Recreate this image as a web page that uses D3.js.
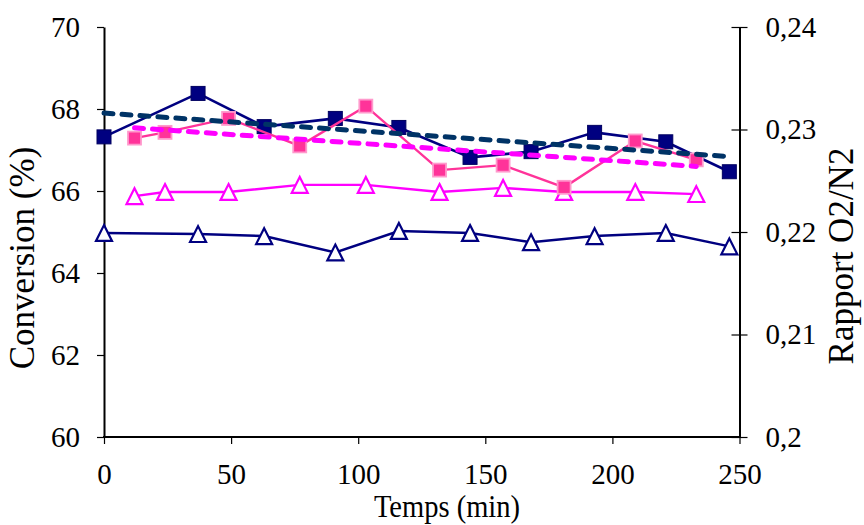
<!DOCTYPE html>
<html><head><meta charset="utf-8">
<script src="https://cdn.jsdelivr.net/npm/d3@7"></script>
<style>
body{margin:0;background:#fff}
svg text{font-family:"Liberation Serif","Times New Roman","DejaVu Serif",serif;fill:#000}
</style>
</head><body>
<svg id="c" width="864" height="525"></svg>
<script>
// ---- data ----
const navyTimes = [0, 37, 63, 91, 116, 144, 168, 193, 221, 246];
const pinkTimes = [12, 24, 49, 77, 103, 132, 157, 181, 209, 233];
const navyConversion = [67.32, 68.38, 67.57, 67.77, 67.55, 66.82, 66.96, 67.43, 67.20, 66.47];
const pinkConversion = [67.29, 67.43, 67.77, 67.10, 68.07, 66.51, 66.63, 66.09, 67.22, 66.76];
const navyRatio = [0.2199, 0.2198, 0.2196, 0.2180, 0.2201, 0.2199, 0.2190, 0.2196, 0.2199, 0.2186];
const pinkRatio = [0.2235, 0.2239, 0.2239, 0.2246, 0.2246, 0.2239, 0.2243, 0.2239, 0.2239, 0.2237];
const navyTrendTimes = [0, 246];
const navyTrendValues = [67.90, 66.84];
const pinkTrendTimes = [12, 233];
const pinkTrendValues = [67.54, 66.60];
const xTicks = [0, 50, 100, 150, 200, 250];
const leftTicks = [60, 62, 64, 66, 68, 70];
const rightTicks = [0.20, 0.21, 0.22, 0.23, 0.24];
const rightTickLabels = ["0,2", "0,21", "0,22", "0,23", "0,24"];
const xTitle = "Temps (min)";
const leftTitle = "Conversion (%)";
const rightTitle = "Rapport O2/N2";

// ---- layout ----
const FONT = "Liberation Serif, Times New Roman, DejaVu Serif, serif";
const L = 104, R = 739.5, T = 27, B = 437;
const svg = d3.select("#c");
const x = d3.scaleLinear().domain([0, 250]).range([L, R]);
const yL = d3.scaleLinear().domain([60, 70]).range([B, T]);
const yR = d3.scaleLinear().domain([0.20, 0.24]).range([B, T]);

const zip = (a, b) => a.map((v, i) => [v, b[i]]);
const navySq = zip(navyTimes, navyConversion);
const pinkSq = zip(pinkTimes, pinkConversion);
const navyTri = zip(navyTimes, navyRatio);
const pinkTri = zip(pinkTimes, pinkRatio);

const tickFont = 29;
function squeeze(sel, k) {
  sel.each(function () {
    const len = this.getComputedTextLength();
    d3.select(this).attr("textLength", len * k).attr("lengthAdjust", "spacingAndGlyphs");
  });
}

// axes
const gx = svg.append("g").attr("transform", `translate(0,${B})`)
  .call(d3.axisBottom(x).tickValues(xTicks).tickSizeInner(7).tickSizeOuter(0).tickPadding(19).tickFormat(d3.format("d")));
const gl = svg.append("g").attr("transform", `translate(${L},0)`)
  .call(d3.axisLeft(yL).tickValues(leftTicks).tickSizeInner(7).tickSizeOuter(0).tickPadding(17).tickFormat(d3.format("d")));
const gr = svg.append("g").attr("transform", `translate(${R},0)`)
  .call(d3.axisRight(yR).tickValues(rightTicks).tickSizeInner(8).tickSizeOuter(0).tickPadding(18)
    .tickFormat((d, i) => rightTickLabels[i]));
gr.selectAll(".tick line").attr("x1", -8).attr("x2", 8);
[gx, gl, gr].forEach(g => {
  g.attr("font-family", FONT).attr("font-size", tickFont);
  g.select(".domain").attr("stroke", "#000").attr("stroke-width", 2);
  g.selectAll(".tick line").attr("stroke", "#000").attr("stroke-width", 1.2);
  g.selectAll(".tick text").attr("font-size", tickFont).attr("font-family", FONT);
});
gx.select(".domain").attr("d", `M${L - 1},0H${R + 1}`);

// series
const line = (ys) => d3.line().x(d => x(d[0])).y(d => ys(d[1]));
const triPath = (cx, cy, s) => {
  const h = s * 0.866;
  return `M${cx},${cy - h / 2 - 1}L${cx + s / 2},${cy + h / 2 + 1}L${cx - s / 2},${cy + h / 2 + 1}Z`;
};

// navy triangles (right axis)
svg.append("path").datum(navyTri).attr("d", line(yR)).attr("fill", "none").attr("stroke", "#000080").attr("stroke-width", 2.5);
svg.append("g").selectAll("path").data(navyTri).join("path")
  .attr("d", d => triPath(x(d[0]), yR(d[1]), 16)).attr("fill", "#fff").attr("stroke", "#000080").attr("stroke-width", 2.2);

// pink triangles (right axis)
svg.append("path").datum(pinkTri).attr("d", line(yR)).attr("fill", "none").attr("stroke", "#FF00FF").attr("stroke-width", 2.4);
svg.append("g").selectAll("path").data(pinkTri).join("path")
  .attr("d", d => triPath(x(d[0]), yR(d[1]), 16)).attr("fill", "#fff").attr("stroke", "#FF00FF").attr("stroke-width", 2.2);

// navy squares (left axis)
svg.append("path").datum(navySq).attr("d", line(yL)).attr("fill", "none").attr("stroke", "#000080").attr("stroke-width", 2.6);
svg.append("g").selectAll("rect").data(navySq).join("rect")
  .attr("x", d => x(d[0]) - 7).attr("y", d => yL(d[1]) - 7).attr("width", 14).attr("height", 14)
  .attr("fill", "#000080").attr("stroke", "#000060").attr("stroke-width", 1);

// pink squares (left axis)
svg.append("path").datum(pinkSq).attr("d", line(yL)).attr("fill", "none").attr("stroke", "#FF3399").attr("stroke-width", 2.4);
svg.append("g").selectAll("rect").data(pinkSq).join("rect")
  .attr("x", d => x(d[0]) - 6.5).attr("y", d => yL(d[1]) - 6.5).attr("width", 13).attr("height", 13)
  .attr("fill", "#FF3399").attr("stroke", "#FF99CC").attr("stroke-width", 1.8);

// trend lines
svg.append("path").datum(zip(navyTrendTimes, navyTrendValues)).attr("d", line(yL))
  .attr("fill", "none").attr("stroke", "#003366").attr("stroke-width", 5)
  .attr("stroke-dasharray", "9,9").attr("stroke-linecap", "round");
svg.append("path").datum(zip(pinkTrendTimes, pinkTrendValues)).attr("d", line(yL))
  .attr("fill", "none").attr("stroke", "#FF00FF").attr("stroke-width", 5)
  .attr("stroke-dasharray", "9,9").attr("stroke-linecap", "round");

// titles
svg.append("text").attr("x", 447).attr("y", 517).attr("text-anchor", "middle")
  .attr("font-family", FONT).attr("font-size", 31).text(xTitle).call(squeeze, 0.92);
svg.append("text").attr("transform", "translate(34,258) rotate(-90)").attr("text-anchor", "middle")
  .attr("font-family", FONT).attr("font-size", 35).text(leftTitle);
svg.append("text").attr("transform", "translate(853,256) rotate(-90)").attr("text-anchor", "middle")
  .attr("font-family", FONT).attr("font-size", 35).text(rightTitle);
</script>
</body></html>
